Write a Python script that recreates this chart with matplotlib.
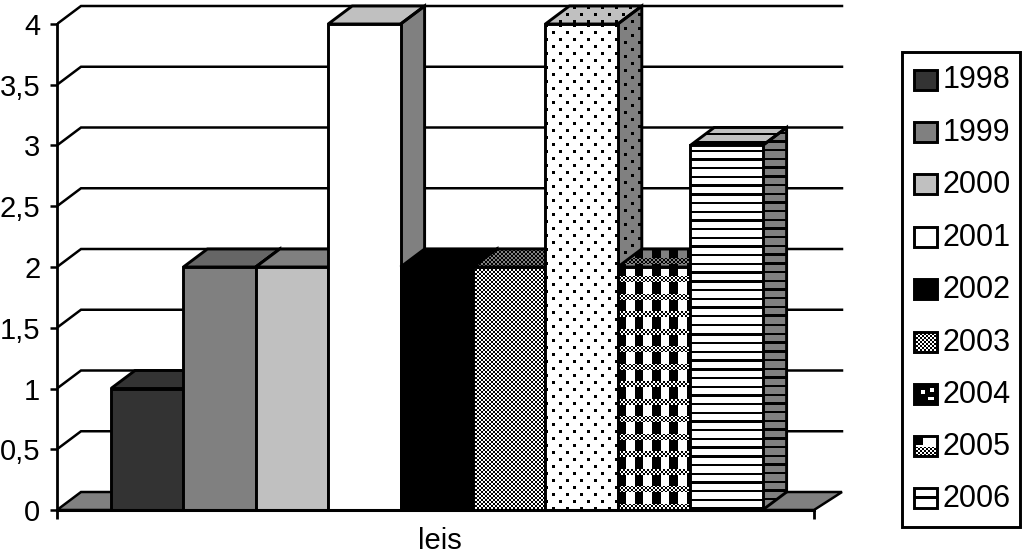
import numpy as np
import matplotlib
matplotlib.use("Agg")
import matplotlib.pyplot as plt
from matplotlib.patches import Polygon

plt.rcParams['font.family'] = ['Liberation Sans', 'DejaVu Sans']

categoria = "leis"
anos = ["1998", "1999", "2000", "2001", "2002", "2003", "2004", "2005", "2006"]
valores = [1, 2, 2, 4, 2, 2, 4, 2, 3]
y_ticks = [0, 0.5, 1, 1.5, 2, 2.5, 3, 3.5, 4]
y_labels = ["0", "0,5", "1", "1,5", "2", "2,5", "3", "3,5", "4"]


# padroes de preenchimento (mascara em pixels a partir do canto da face)
def xadrez(x, y):
    return (x // 2 + y // 2) % 2 == 0


def blocos(x, y):
    r = y % 17.5
    faixa = (r >= 9) & (r < 15)
    return np.where(faixa, xadrez(x, y), x % 17.33 < 8.67)


def pontos(x, y):
    a = (x % 14 < 2.5) & (y % 14 < 2.5)
    b = ((x + 7) % 14 < 2.5) & ((y + 7) % 14 < 2.5)
    return a | b


def listras(x, y):
    return (y + 3.5) % 8.7 < 2.4


def legenda_2004(x, y):
    branco = ((x >= 7) & (x < 11) & (y >= 6) & (y < 10)) | ((x >= 16) & (x < 20) & (y >= 4) & (y < 8))
    branco |= (x >= 14) & (x < 20) & (y >= 13) & (y < 16)
    return ~branco


def legenda_2005(x, y):
    canto = (x < 9) & (y < 9)
    baixo = (y >= 11) & xadrez(x, y)
    return canto | baixo


def legenda_2006(x, y):
    return (y >= 8) & (y < 11)


frente = ["#333333", "#808080", "#c0c0c0", "#ffffff", "#000000", "#ffffff", "#ffffff", "#ffffff", "#ffffff"]
topo = ["#333333", "#666666", "#808080", "#c0c0c0", "#000000", "#808080", "#c0c0c0", "#808080", "#c0c0c0"]
lado = ["#1a1a1a", "#606060", "#808080", "#808080", "#000000", "#606060", "#808080", "#808080", "#808080"]
padrao = [None, None, None, None, None, xadrez, pontos, blocos, listras]
padrao_legenda = [None, None, None, None, None, xadrez, legenda_2004, legenda_2005, legenda_2006]


def face(ax, verts, cor, pad=None, z=3, lw=2.1):
    poly = Polygon(verts, closed=True, fc=cor, ec='none', zorder=z)
    ax.add_patch(poly)
    if pad is not None:
        pts = ax.transData.transform(verts)
        x0, x1 = int(np.floor(pts[:, 0].min())), int(np.ceil(pts[:, 0].max()))
        y0, y1 = int(np.floor(pts[:, 1].min())), int(np.ceil(pts[:, 1].max()))
        yy, xx = np.mgrid[0:y1 - y0, 0:x1 - x0]
        mask = pad(xx, yy)
        rgba = np.zeros(mask.shape + (4,))
        rgba[..., 3] = mask
        inv = ax.transData.inverted()
        (l, b), (r, t) = inv.transform([(x0, y0), (x1, y1)])
        im = ax.imshow(rgba, extent=(l, r, b, t), aspect='auto', interpolation='nearest', zorder=z + 0.1)
        im.set_clip_path(poly)
    ax.add_patch(Polygon(verts, closed=True, fc='none', ec='black', lw=lw, joinstyle='miter', zorder=z + 0.2))


fig = plt.figure(figsize=(10.23, 5.57), dpi=100)
W, H = 1023, 557

# eixo principal: vai ate o topo da figura para caber a profundidade 3D
ax = fig.add_axes([57 / W, (H - 510) / H, (852 - 57) / W, 510 / H])
ax.set_xlim(0, (852 - 57) / 757)
ax.set_ylim(0, 510 / 121.5)
ax.patch.set_alpha(0)

dx = 24 / 757
dy = 18 / 121.5
fundo_dir = (842 - 57) / 757

# linhas de grade e piso
for v in y_ticks[1:]:
    ax.plot([0, dx, fundo_dir], [v, v + dy, v + dy], color='black', lw=1.8, zorder=1, solid_joinstyle='miter')
face(ax, [(0, 0), (dx, dy), (fundo_dir, dy), (1, 0)], "#808080", z=1.5, lw=1.8)

# barras
inicio = (111 - 57) / 757
larg = 72.4 / 757
for i in range(len(anos)):
    x = inicio + i * larg
    v = valores[i]
    z = 3 + i
    face(ax, [(x, v), (x + dx, v + dy), (x + larg + dx, v + dy), (x + larg, v)], topo[i], padrao[i], z)
    face(ax, [(x + larg, 0), (x + larg + dx, dy), (x + larg + dx, v + dy), (x + larg, v)], lado[i], padrao[i], z)
    face(ax, [(x, 0), (x, v), (x + larg, v), (x + larg, 0)], frente[i], padrao[i], z + 0.5)

for s in ['top', 'right']:
    ax.spines[s].set_visible(False)
ax.spines['left'].set_bounds(0, 4)
ax.spines['bottom'].set_bounds(0, 1)
ax.spines['left'].set_linewidth(2)
ax.spines['bottom'].set_linewidth(2.2)
ax.spines['bottom'].set_zorder(20)
ax.spines['left'].set_zorder(20)
ax.set_yticks(y_ticks)
ax.set_yticklabels(y_labels, fontsize=21)
ax.set_xticks([0, 1])
ax.set_xticklabels(["", ""])
ax.tick_params(axis='y', length=5, width=1.8, pad=7)
ax.tick_params(axis='x', length=6.5, width=2)
ax.set_xlabel(categoria, fontsize=21)
ax.xaxis.set_label_coords(0.482, -0.034)

# legenda desenhada em coordenadas de pixel
lg = fig.add_axes([0, 0, 1, 1])
lg.set_xlim(0, W)
lg.set_ylim(H, 0)
lg.axis('off')
lg.patch.set_alpha(0)
lg.add_patch(Polygon([(902, 52), (1020, 52), (1020, 527), (902, 527)], closed=True, fc='white', ec='black', lw=2.1))
linhas_y = [79.5, 131.7, 184, 236.7, 289.3, 341.7, 394, 446, 498.3]
for i, ano in enumerate(anos):
    yc = linhas_y[i]
    face(lg, [(914, yc - 10), (937, yc - 10), (937, yc + 10), (914, yc + 10)], frente[i], padrao_legenda[i], z=5)
    lg.text(943, yc + 1, ano, fontsize=22, va='center', ha='left', color='black', zorder=6)

fig.savefig("out.png", dpi=100)
